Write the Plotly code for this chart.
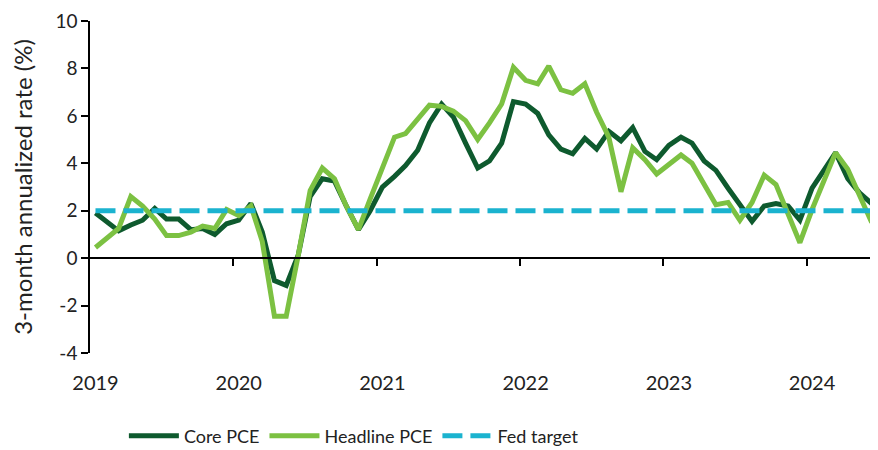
import pandas as pd
import plotly.graph_objects as go

# ---- data (monthly, Jan 2019 - Jun 2024) ----
months = pd.date_range("2019-01-01", periods=66, freq="MS") + pd.Timedelta(days=14)

core_pce = [1.9, 1.5, 1.15, 1.4, 1.6, 2.1, 1.65, 1.65, 1.2, 1.25, 1.0, 1.45,
            1.6, 2.3, 1.1, -0.95, -1.15, 0.15, 2.6, 3.35, 3.25, 2.2, 1.2, 2.0,
            3.0, 3.45, 3.9, 4.55, 5.7, 6.5, 5.95, 4.85, 3.8, 4.1, 4.85, 6.6,
            6.5, 6.1, 5.2, 4.6, 4.4, 5.05, 4.6, 5.35, 4.95, 5.5, 4.5, 4.15,
            4.75, 5.1, 4.85, 4.1, 3.7, 2.95, 2.25, 1.55, 2.2, 2.3, 2.2, 1.6,
            2.95, 3.75, 4.45, 3.35, 2.75, 2.3]

headline_pce = [0.45, 0.85, 1.25, 2.6, 2.2, 1.65, 0.95, 0.95, 1.1, 1.35, 1.25, 2.05,
                1.8, 2.2, 0.7, -2.45, -2.45, 0.15, 2.85, 3.8, 3.35, 2.2, 1.2, 2.5,
                3.75, 5.1, 5.25, 5.9, 6.45, 6.4, 6.2, 5.8, 5.0, 5.7, 6.5, 8.05,
                7.5, 7.35, 8.1, 7.1, 6.95, 7.35, 6.15, 5.1, 2.8, 4.65, 4.15, 3.55,
                3.95, 4.35, 4.0, 3.1, 2.25, 2.35, 1.6, 2.35, 3.5, 3.1, 1.8, 0.65,
                2.05, 3.35, 4.45, 3.75, 2.65, 1.5]

fed_target = [2.0] * len(months)

years = ["2019", "2020", "2021", "2022", "2023", "2024"]
y_ticks = [-4, -2, 0, 2, 4, 6, 8, 10]
y_tick_text = ["-4", "-2", "0", "2", "4", "6", "8", "10"]

# ---- styling ----
FONT = "Lato"
TXT = "#222222"
CORE = "#0E5A2E"
HEAD = "#7CC142"
FED = "#1BB3CF"

year_starts = pd.to_datetime([f"{y}-01-01" for y in years])
year_labels_pos = year_starts + pd.Timedelta(days=14)

fig = go.Figure()
fig.add_trace(go.Scatter(x=months, y=core_pce, mode="lines", name="Core PCE",
                         line=dict(color=CORE, width=5)))
fig.add_trace(go.Scatter(x=months, y=headline_pce, mode="lines", name="Headline PCE",
                         line=dict(color=HEAD, width=5)))
fig.add_trace(go.Scatter(x=months, y=fed_target, mode="lines", name="Fed target",
                         line=dict(color=FED, width=5, dash="20px,8px")))

x_range = ["2019-01-01", "2024-07-01"]
ymin, ymax = -4, 10

# page body adds ~8px offset; figure sized to fit the 878x450 window
fig.update_layout(
    width=870, height=442,
    margin=dict(l=82, r=0, t=13, b=97, autoexpand=False),
    paper_bgcolor="white", plot_bgcolor="white",
    font=dict(family=FONT, color=TXT),
    showlegend=True,
    legend=dict(orientation="h", x=0.043, xanchor="left", y=-0.25, yanchor="middle",
                font=dict(size=18, family=FONT, color=TXT),
                itemwidth=50, bgcolor="rgba(0,0,0,0)"),
    xaxis=dict(type="date", range=x_range, showgrid=False, zeroline=False,
               showline=False, ticks="", automargin=False,
               tickvals=list(year_labels_pos), ticktext=years,
               tickfont=dict(size=20, family=FONT, color=TXT),
               ticklabelstandoff=16, ticklabeloverflow="allow"),
    xaxis2=dict(type="date", range=x_range, overlaying="x", anchor="free",
                position=(0 - ymin) / (ymax - ymin), side="bottom",
                showgrid=False, zeroline=False, showline=True, automargin=False,
                linecolor="black", linewidth=1.5,
                ticks="outside", ticklen=7, tickwidth=1.5, tickcolor="black",
                tickvals=list(year_starts[1:]), showticklabels=False),
    yaxis=dict(range=[ymin, ymax], tickvals=y_ticks, ticktext=y_tick_text,
               showgrid=False, zeroline=False, automargin=False,
               showline=True, linecolor="black", linewidth=1.5,
               ticks="outside", ticklen=7, tickwidth=1.5, tickcolor="black",
               tickfont=dict(size=19, family=FONT, color=TXT),
               ticklabeloverflow="allow",
               title=dict(text="3-month annualized rate (%)",
                          font=dict(size=24, family=FONT, color=TXT),
                          standoff=19)),
)

# invisible helper so xaxis2 is rendered
fig.add_trace(go.Scatter(x=[months[0]], y=[None], xaxis="x2", showlegend=False,
                         hoverinfo="skip", mode="lines"))

fig.write_html("out.html")
